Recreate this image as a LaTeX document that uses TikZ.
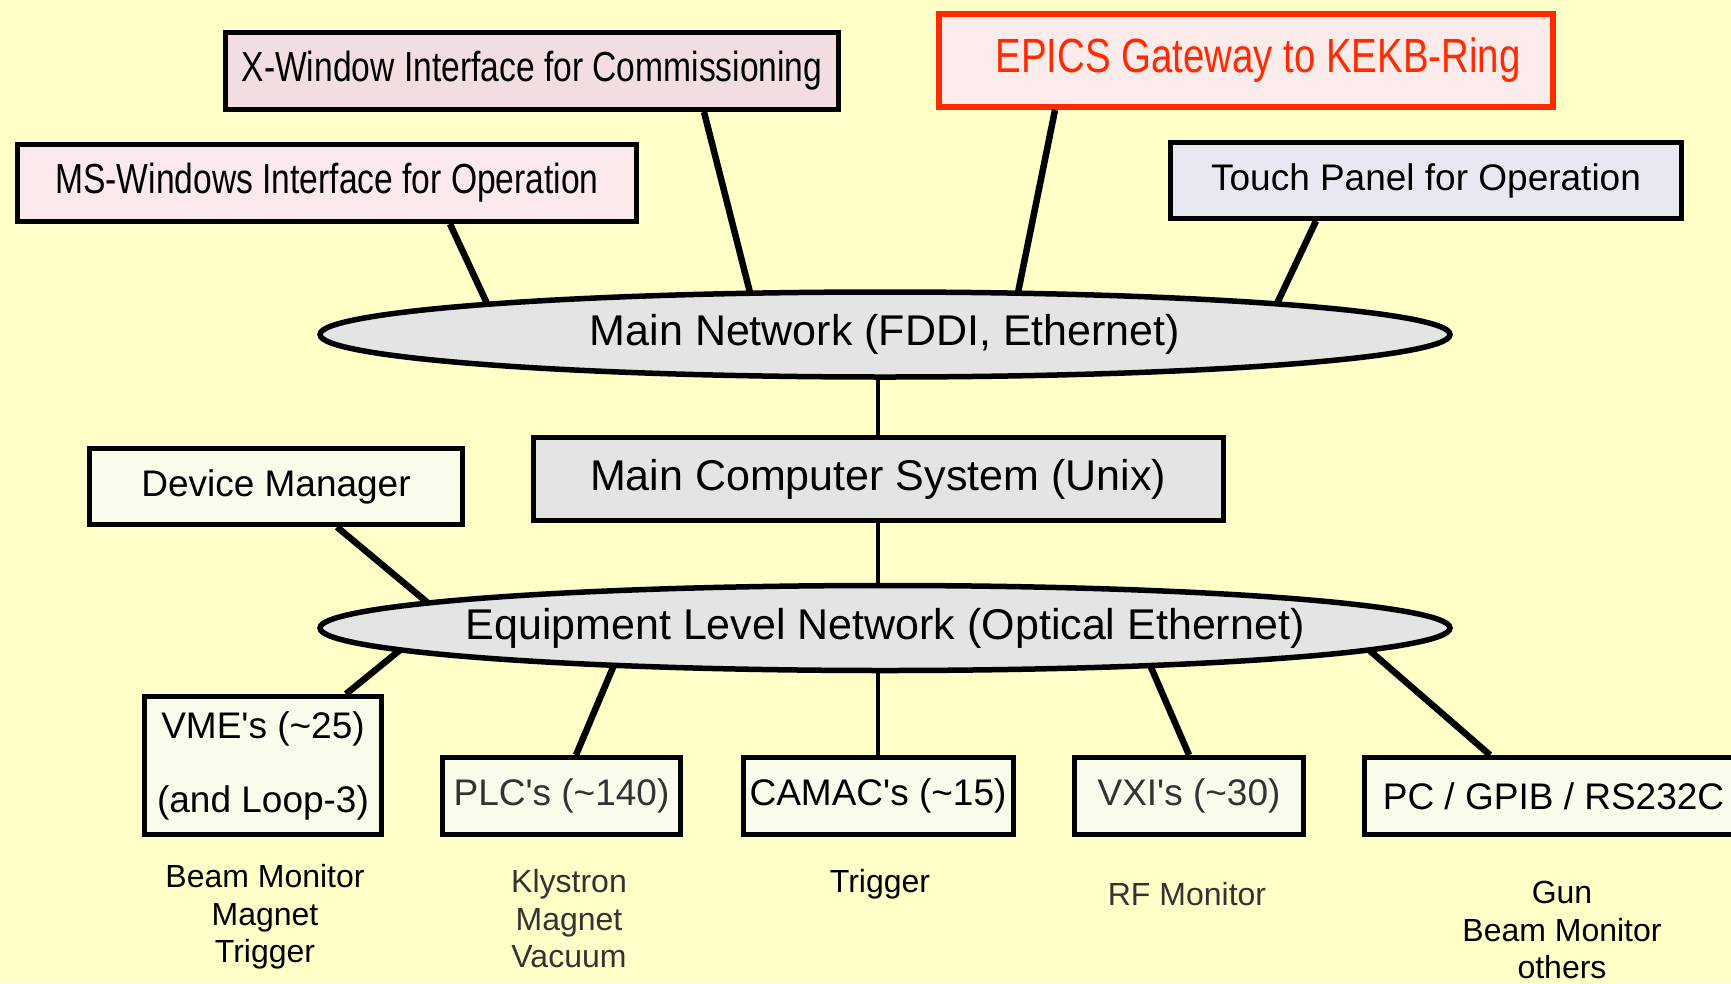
\documentclass[tikz,border=0pt]{standalone}
\usepackage{fontspec}
\setmainfont{Liberation Sans}
\newfontfamily\narrowfont[FakeStretch=0.8]{Liberation Sans}
\usetikzlibrary{shapes.geometric}

\definecolor{bgyellow}{HTML}{FFFFC8}
\definecolor{xwinpink}{HTML}{F2DEE0}
\definecolor{mspink}{HTML}{FBE9EC}
\definecolor{epicspink}{HTML}{FBEBEB}
\definecolor{epicsred}{HTML}{FF2A00}
\definecolor{touchblue}{HTML}{E8E8F3}
\definecolor{netgray}{HTML}{E4E4E4}
\definecolor{cream}{HTML}{FAFBEA}
\definecolor{softblack}{HTML}{333333}

\begin{document}
\begin{tikzpicture}[x=1pt, y=-1pt,
    box/.style={draw, rectangle, line width=5pt, inner sep=0pt, minimum height=77pt},
    netshape/.style={draw, ellipse, line width=5.5pt, fill=netgray, inner sep=0pt, inner xsep=-60pt,
      minimum width=1130pt, minimum height=85pt, font=\fontsize{43}{50}\selectfont},
    bigtext/.style={font=\fontsize{43}{50}\selectfont},
    midtext/.style={font=\fontsize{37}{44}\selectfont},
    narrowtext/.style={font=\narrowfont\fontsize{42}{48}\selectfont},
    note/.style={align=center, font=\fontsize{32}{37.5}\selectfont},
    link/.style={line width=6.5pt},
    trunk/.style={line width=4.5pt}]

    \path[use as bounding box, fill=bgyellow] (0,0) rectangle (1731,983);

    % Nodes
    \node[box, narrowtext, fill=xwinpink, minimum width=613pt] (xwin) at (532, 71) {X-Window Interface for Commissioning};
    \node[box, narrowtext, fill=mspink, minimum width=619pt] (ms) at (327, 183) {MS-Windows Interface for Operation};
    \node[box, fill=epicspink, draw=epicsred, text=epicsred, line width=6pt, minimum width=614pt, minimum height=93pt,
      font=\narrowfont\fontsize{48}{54}\selectfont] (epics) at (1246, 60.5) {\hspace{24pt}EPICS Gateway to KEKB-Ring};
    \node[box, midtext, fill=touchblue, minimum width=511pt, minimum height=76pt] (touch) at (1426, 180.5) {Touch Panel for Operation};

    \node[netshape] (mainnet) at (885, 334.5) {Main Network (FDDI, Ethernet)};
    \node[box, bigtext, fill=netgray, minimum width=690pt, minimum height=83pt] (mcs) at (878, 479) {Main Computer System (Unix)};
    \node[box, midtext, fill=cream, minimum width=373pt, minimum height=76pt] (devman) at (276, 486.5) {Device Manager};
    \node[netshape] (eqnet) at (885, 628) {Equipment Level Network (Optical Ethernet)};

    \node[box, fill=cream, minimum width=237pt, minimum height=138pt, align=center,
      font=\fontsize{37}{74}\selectfont] (vme) at (263, 765.5) {VME\textquotesingle s (\textasciitilde25)\\(and Loop-3)};
    \node[box, midtext, fill=cream, text=softblack, minimum width=238pt] (plc) at (561.5, 796) {PLC\textquotesingle s (\textasciitilde140)};
    \node[box, midtext, fill=cream, minimum width=270pt] (camac) at (878, 796) {CAMAC\textquotesingle s (\textasciitilde15)};
    \node[box, midtext, fill=cream, text=softblack, minimum width=229pt] (vxi) at (1189, 796) {VXI\textquotesingle s (\textasciitilde30)};
    \node[box, midtext, fill=cream, minimum width=378pt] (pc) at (1553.5, 796) {PC / GPIB / RS232C};

    \node[note] (vmeuse) at (265, 917) {Beam Monitor\\Magnet\\Trigger};
    \node[note, text=softblack] (plcuse) at (569, 919) {Klystron\\Magnet\\Vacuum};
    \node[note] (camacuse) at (880, 884) {Trigger};
    \node[note, text=softblack] (vxiuse) at (1187, 894) {RF Monitor};
    \node[note] (pcuse) at (1562, 930) {Gun\\Beam Monitor\\others};

    % Edges
    \draw[link] ([xshift=123pt]ms.south) -- ([shift={(-398,-31)}]mainnet.center);
    \draw[link] ([xshift=172pt]xwin.south) -- ([shift={(-135,-42)}]mainnet.center);
    \draw[link] ([xshift=-191pt]epics.south) -- ([shift={(133,-42)}]mainnet.center);
    \draw[link] ([xshift=-110pt]touch.south) -- ([shift={(392,-31)}]mainnet.center);
    \draw[trunk] (mcs.north) -- (mcs.north |- mainnet.south);
    \draw[trunk] (mcs.south) -- (mcs.south |- eqnet.north);
    \draw[link] ([xshift=61pt]devman.south) -- ([shift={(-457,-25)}]eqnet.center);
    \draw[link] ([xshift=83pt]vme.north) -- ([shift={(-485,22)}]eqnet.center);
    \draw[link] ([xshift=14.5pt]plc.north) -- ([shift={(-271,37)}]eqnet.center);
    \draw[trunk] (camac.north) -- (camac.north |- eqnet.south);
    \draw[link] (vxi.north) -- ([shift={(265,37)}]eqnet.center);
    \draw[link] ([xshift=-63.5pt]pc.north) -- ([shift={(484,22)}]eqnet.center);
\end{tikzpicture}
\end{document}
